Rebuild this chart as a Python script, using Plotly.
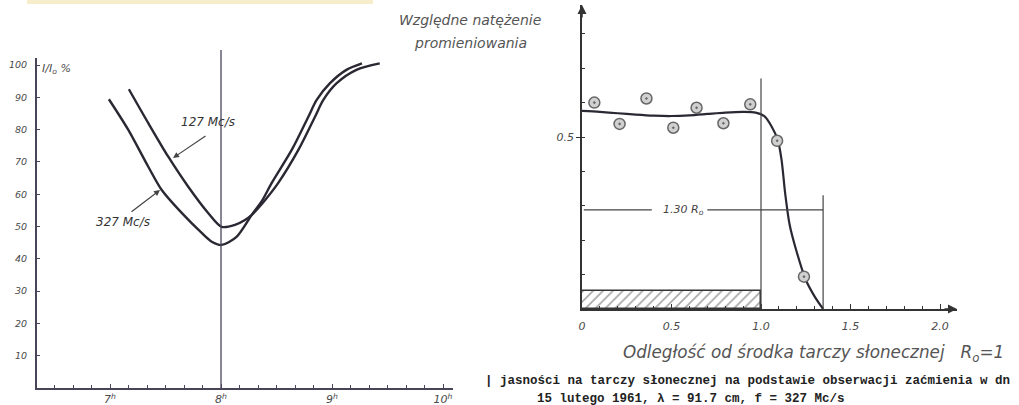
import plotly.graph_objects as go

W, H = 1019, 405

# ---------------- Left chart data (time in hours, I/I0 in %) ----------------
t_327 = [6.99, 7.165, 7.345, 7.466, 7.646, 7.826, 7.916, 8.006, 8.14, 8.277, 8.37, 8.457, 8.637, 8.787, 8.862, 8.98, 9.13, 9.27]
v_327 = [89.4, 79.9, 68.5, 61.3, 54.2, 48.0, 45.3, 44.3, 46.8, 53.6, 58.0, 63.5, 73.7, 84.0, 89.2, 94.3, 98.5, 100.5]

t_127 = [7.17, 7.345, 7.525, 7.705, 7.886, 8.006, 8.126, 8.216, 8.277, 8.40, 8.516, 8.697, 8.847, 8.922, 9.04, 9.22, 9.43]
v_127 = [92.5, 82.0, 71.6, 62.3, 54.1, 49.9, 50.5, 52.0, 53.6, 58.3, 63.5, 73.7, 84.0, 89.2, 94.3, 98.5, 100.5]

left_y_ticks = [10, 20, 30, 40, 50, 60, 70, 80, 90, 100]
left_x_ticks = [7, 8, 9, 10]
left_x_labels = ["7<sup>h</sup>", "8<sup>h</sup>", "9<sup>h</sup>", "10<sup>h</sup>"]

# ---------------- Right chart data ----------------
obs_x = [0.069, 0.21, 0.36, 0.51, 0.64, 0.79, 0.94, 1.09, 1.24]
obs_y = [0.600, 0.538, 0.612, 0.527, 0.585, 0.540, 0.595, 0.489, 0.094]

fit_x = [0.0, 0.1, 0.2, 0.3, 0.4, 0.5, 0.6, 0.7, 0.8, 0.9, 0.97, 1.02, 1.06, 1.094, 1.115, 1.135, 1.16, 1.20, 1.25, 1.30, 1.347]
fit_y = [0.576, 0.573, 0.569, 0.565, 0.562, 0.561, 0.563, 0.567, 0.571, 0.573, 0.571, 0.560, 0.530, 0.491, 0.433, 0.336, 0.245, 0.165, 0.085, 0.036, 0.0]

right_x_ticks = [0, 0.5, 1.0, 1.5, 2.0]
right_x_labels = ["0", "0.5", "1.0", "1.5", "2.0"]
right_y_ticks = [0.5]
right_y_labels = ["0.5"]

disk_x = [0.5]
disk_y = [0.052]
disk_w = [1.0]

# ---------------- pixel geometry helpers ----------------
def px(x):
    return x / W

def py(y):
    return 1 - y / H

LX0, LX1, LY0, LY1 = 37, 453, 388, 58
RX0, RX1, RY0, RY1 = 582, 957, 309, 5
l_xr = [7 + (LX0 - 110) / 111, 7 + (LX1 - 110) / 111]
l_yr = [0, (LY0 - LY1) / 3.23]
r_xr = [0, (RX1 - RX0) / 179]
r_yr = [0, (RY0 - RY1) / 344]

ink = "#2b2833"
axc = "#4a4458"
txt = "#4a4a4a"
ital = dict(family="DejaVu Sans", size=11, color=txt, style="italic")


def label(text, x, y, size, color="#444", xanchor="center", family="DejaVu Sans", style="italic", **kw):
    return dict(text=text, x=px(x), y=py(y), xref="paper", yref="paper", showarrow=False,
                xanchor=xanchor, yanchor="middle",
                font=dict(family=family, size=size, color=color, style=style), **kw)


fig = go.Figure()

fig.add_trace(go.Scatter(x=t_327, y=v_327, mode="lines", line=dict(color=ink, width=2.4, shape="spline", smoothing=0.8),
                         xaxis="x", yaxis="y", showlegend=False, hoverinfo="skip"))
fig.add_trace(go.Scatter(x=t_127, y=v_127, mode="lines", line=dict(color=ink, width=2.4, shape="spline", smoothing=0.8),
                         xaxis="x", yaxis="y", showlegend=False, hoverinfo="skip"))

fig.add_trace(go.Bar(x=disk_x, y=disk_y, width=disk_w, xaxis="x2", yaxis="y2", showlegend=False,
                     marker=dict(color="white", line=dict(color="#333", width=1.5),
                                 pattern=dict(shape="/", fgcolor="#555", bgcolor="white", size=7, solidity=0.25)),
                     hoverinfo="skip"))
fig.add_trace(go.Scatter(x=fit_x, y=fit_y, mode="lines", line=dict(color=ink, width=2.2, shape="spline", smoothing=0.8),
                         xaxis="x2", yaxis="y2", showlegend=False, hoverinfo="skip"))
fig.add_trace(go.Scatter(x=obs_x, y=obs_y, mode="markers",
                         marker=dict(symbol="circle-dot", size=11, color="#d0d0d0", line=dict(color="#666", width=1.5)),
                         xaxis="x2", yaxis="y2", showlegend=False, hoverinfo="skip"))

shapes = [
    dict(type="rect", xref="paper", yref="paper", x0=px(27), x1=px(373), y0=py(4), y1=1.0,
         fillcolor="#f6eecb", line=dict(width=0), layer="below"),
    dict(type="line", xref="x", yref="paper", x0=8, x1=8, y0=py(LY0), y1=py(50),
         line=dict(color=axc, width=1.3)),
    dict(type="line", xref="x2", yref="y2", x0=1.0, x1=1.0, y0=0, y1=0.67,
         line=dict(color="#444", width=1.2)),
    dict(type="line", xref="x2", yref="y2", x0=1.347, x1=1.347, y0=0, y1=0.331,
         line=dict(color="#444", width=1.2)),
    dict(type="line", xref="x2", yref="y2", x0=0.01, x1=0.39, y0=0.288, y1=0.288,
         line=dict(color="#444", width=1.2)),
    dict(type="line", xref="x2", yref="y2", x0=0.70, x1=1.347, y0=0.288, y1=0.288,
         line=dict(color="#444", width=1.2)),
]

annotations = [
    label("I/I<sub>o</sub> %", 56, 69, 11, color=txt),
    label("127 Mc/s", 208, 122, 12, color="#333"),
    label("327 Mc/s", 123, 222, 12, color="#333"),
    dict(text="", x=7 + (173 - 110) / 111, y=(388 - 158) / 3.23, xref="x", yref="y",
         showarrow=True, ax=34, ay=-23, arrowhead=2, arrowsize=1, arrowwidth=1.2, arrowcolor="#444"),
    dict(text="", x=7 + (160 - 110) / 111, y=(388 - 190) / 3.23, xref="x", yref="y",
         showarrow=True, ax=-30, ay=23, arrowhead=2, arrowsize=1, arrowwidth=1.2, arrowcolor="#444"),
    label("Względne natężenie", 470, 20, 14, color="#555"),
    label("promieniowania", 470, 43, 14, color="#555"),
    label("1.30 R<sub>o</sub>", 683, 210, 11, color="#444", bgcolor="white"),
    label("Odległość od środka tarczy słonecznej   R<sub>o</sub>=1", 621, 353, 16.8, color="#555", xanchor="left"),
    label("<b>| jasności na tarczy słonecznej na podstawie obserwacji zaćmienia w dn</b>", 483, 381, 12.5,
          color="#222", xanchor="left", family="Liberation Mono", style="normal"),
    label("<b>15 lutego 1961, λ = 91.7 cm, f = 327 Mc/s</b>", 535, 399, 12.5,
          color="#222", xanchor="left", family="Liberation Mono", style="normal"),
    dict(text="", x=r_xr[1], y=0, xref="x2", yref="y2", showarrow=True, ax=-14, ay=0,
         arrowhead=2, arrowsize=1.2, arrowwidth=1.5, arrowcolor="#333"),
    dict(text="", x=0, y=r_yr[1], xref="x2", yref="y2", showarrow=True, ax=0, ay=14,
         arrowhead=2, arrowsize=1.2, arrowwidth=1.5, arrowcolor="#333"),
]

fig.update_layout(
    width=W, height=H,
    margin=dict(l=0, r=0, t=0, b=0, autoexpand=False),
    paper_bgcolor="white", plot_bgcolor="rgba(0,0,0,0)",
    showlegend=False,
    bargap=0,
    xaxis=dict(domain=[px(LX0), px(LX1)], range=l_xr, showgrid=False, zeroline=False, automargin=False,
               showline=True, linecolor=axc, linewidth=2,
               tickmode="array", tickvals=left_x_ticks, ticktext=left_x_labels,
               ticks="inside", ticklen=4, tickcolor=axc,
               tickfont=dict(family="DejaVu Sans", size=11, color=txt, style="italic"), ticklabelstandoff=0,
               minor=dict(tickmode="linear", tick0=0, dtick=1 / 6, ticks="inside", ticklen=3, tickcolor=axc, showgrid=False),
               anchor="y", fixedrange=True),
    yaxis=dict(domain=[py(LY0), py(LY1)], range=l_yr, showgrid=False, zeroline=False, automargin=False,
               showline=True, linecolor=axc, linewidth=2,
               tickmode="array", tickvals=left_y_ticks, ticktext=[str(v) for v in left_y_ticks],
               ticks="inside", ticklen=3, tickcolor=axc,
               tickfont=dict(family="DejaVu Sans", size=9.5, color=txt, style="italic"),
               ticklabelstandoff=6, anchor="x", fixedrange=True),
    xaxis2=dict(domain=[px(RX0), px(RX1)], range=r_xr, showgrid=False, zeroline=False, automargin=False,
                showline=True, linecolor="#333", linewidth=1.6,
                tickmode="array", tickvals=right_x_ticks, ticktext=right_x_labels,
                ticks="inside", ticklen=5, tickcolor="#333", tickfont=ital, ticklabelstandoff=6,
                minor=dict(tickmode="linear", tick0=0, dtick=0.1, ticks="inside", ticklen=3, tickcolor="#333", showgrid=False),
                anchor="y2", fixedrange=True),
    yaxis2=dict(domain=[py(RY0), py(RY1)], range=r_yr, showgrid=False, zeroline=False, automargin=False,
                showline=True, linecolor="#333", linewidth=1.6,
                tickmode="array", tickvals=right_y_ticks, ticktext=right_y_labels,
                ticks="outside", ticklen=4, tickcolor="#333", tickfont=ital,
                minor=dict(tickmode="linear", tick0=0, dtick=0.1, ticks="inside", ticklen=3, tickcolor="#333", showgrid=False),
                anchor="x2", fixedrange=True),
    shapes=shapes,
    annotations=annotations,
)

fig.write_html("out.html", config={"displayModeBar": False},
               post_script="document.body.style.margin='0';document.body.style.overflow='hidden';")
